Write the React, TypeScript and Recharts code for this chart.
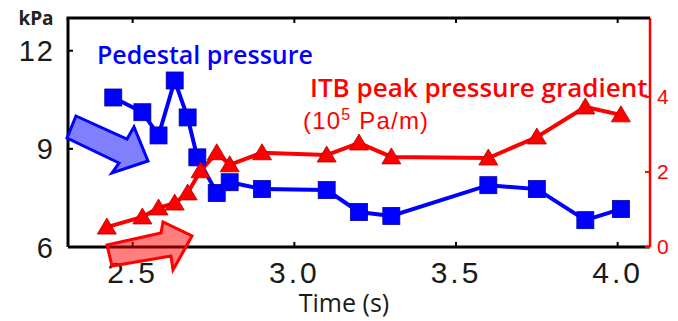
import React from 'react';
import { LineChart, Line, XAxis, YAxis } from 'recharts';

// Pedestal pressure (kPa) vs time
const pedTime = [2.44, 2.53, 2.58, 2.63, 2.67, 2.7, 2.76, 2.8, 2.9, 3.1, 3.2, 3.3, 3.6, 3.75, 3.9, 4.01];
const pedPressure = [10.57, 10.12, 9.41, 11.09, 9.96, 8.74, 7.65, 7.98, 7.77, 7.74, 7.07, 6.95, 7.89, 7.77, 6.82, 7.16];

// ITB peak pressure gradient (10^5 Pa/m) vs time
const itbTime = [2.42, 2.53, 2.58, 2.63, 2.67, 2.71, 2.76, 2.8, 2.9, 3.1, 3.2, 3.3, 3.6, 3.75, 3.9, 4.01];
const itbGradient = [0.53, 0.8, 1.04, 1.17, 1.44, 2.03, 2.51, 2.19, 2.51, 2.45, 2.77, 2.4, 2.37, 2.93, 3.73, 3.52];

const timeTicks = [2.5, 3.0, 3.5, 4.0];
const pressureTicks = [6, 9, 12];
const gradientTicks = [0, 2, 4];

const TIME_DOMAIN = [2.3, 4.1];
const PRESSURE_DOMAIN = [6, 13];
const GRADIENT_DOMAIN = [0, 6.1];

const pedData = pedTime.map((t, i) => ({ t, p: pedPressure[i] }));
const itbData = itbTime.map((t, i) => ({ t, g: itbGradient[i] }));

const W = 678;
const H = 321;
const TOP = 18;
const LEFT_W = 68;
const RIGHT_W = 28;

const BLUE = '#0000ff';
const RED = '#ff0000';
const TICK_FONT = '"Liberation Sans", Arial, sans-serif';
const LABEL_FONT = '"Open Sans", "Noto Sans", sans-serif';

const SquareDot = (props: any) => {
  const { cx, cy } = props;
  if (cx == null || cy == null) return null;
  return <rect x={cx - 8.5} y={cy - 8.5} width={17} height={17} fill={BLUE} stroke="#0000aa" strokeWidth={0.8} />;
};

const TriangleDot = (props: any) => {
  const { cx, cy } = props;
  if (cx == null || cy == null) return null;
  return (
    <polygon
      points={`${cx},${cy - 9} ${cx - 9.5},${cy + 7} ${cx + 9.5},${cy + 7}`}
      fill={RED}
      stroke="#b00000"
      strokeWidth={0.8}
    />
  );
};

const BottomTick = ({ x, y, payload }: any) => (
  <g>
    <rect x={x - 1} y={y - 5} width={2} height={5} fill="#000" />
    {/* matching inward tick on the top frame edge */}
    <rect x={x - 1} y={TOP} width={2} height={5} fill="#000" />
    <text x={x} y={y + 36} textAnchor="middle" fontFamily={TICK_FONT} fontSize={30} letterSpacing={3} fill="#1a1a1a">
      {payload.value.toFixed(1)}
    </text>
  </g>
);

const LeftTick = ({ x, y, payload }: any) => (
  <g>
    <rect x={x} y={y - 1} width={5} height={2} fill="#000" />
    <text x={x - 13} y={y + 10.5} textAnchor="end" fontFamily={TICK_FONT} fontSize={29} letterSpacing={2} fill="#1a1a1a">
      {payload.value}
    </text>
  </g>
);

const RightTick = ({ x, y, payload }: any) => (
  <g>
    <rect x={x - 5} y={y - 1} width={5} height={2} fill={RED} />
    <text x={x + 7} y={y + 7} textAnchor="start" fontFamily={TICK_FONT} fontSize={21} fill={RED}>
      {payload.value}
    </text>
  </g>
);

export default function App() {
  return (
    <div style={{ position: 'absolute', left: 0, top: 0, width: W, height: H, background: '#fff' }}>
      <LineChart width={W} height={H} margin={{ top: TOP, right: 0, bottom: 0, left: 0 }}>
        <XAxis
          xAxisId="b"
          type="number"
          dataKey="t"
          domain={TIME_DOMAIN}
          ticks={timeTicks}
          height={74}
          axisLine={{ stroke: '#000', strokeWidth: 3 }}
          tickLine={false}
          tickSize={0}
          tickMargin={0}
          tick={<BottomTick />}
        />
        <YAxis
          yAxisId="p"
          type="number"
          domain={PRESSURE_DOMAIN}
          ticks={pressureTicks}
          width={LEFT_W}
          axisLine={{ stroke: '#000', strokeWidth: 3 }}
          tickLine={false}
          tickSize={0}
          tickMargin={0}
          tick={<LeftTick />}
        />
        <YAxis
          yAxisId="g"
          orientation="right"
          type="number"
          domain={GRADIENT_DOMAIN}
          ticks={gradientTicks}
          width={RIGHT_W}
          axisLine={{ stroke: RED, strokeWidth: 2.5 }}
          tickLine={false}
          tickSize={0}
          tickMargin={0}
          tick={<RightTick />}
        />
        <Line
          xAxisId="b"
          yAxisId="p"
          data={pedData}
          dataKey="p"
          stroke={BLUE}
          strokeWidth={4}
          dot={<SquareDot />}
          activeDot={false}
          isAnimationActive={false}
        />
        <Line
          xAxisId="b"
          yAxisId="g"
          data={itbData}
          dataKey="g"
          stroke={RED}
          strokeWidth={4}
          dot={<TriangleDot />}
          activeDot={false}
          isAnimationActive={false}
        />
      </LineChart>
      <svg width={W} height={H} style={{ position: 'absolute', left: 0, top: 0, pointerEvents: 'none' }}>
        {/* top edge of the frame */}
        <rect x={LEFT_W - 1.5} y={TOP - 1.5} width={W - RIGHT_W - LEFT_W + 1.5} height={3} fill="#000" />
        <text x={36} y={25} textAnchor="middle" fontFamily={LABEL_FONT} fontSize={19} fontWeight={700} fill="#222">
          kPa
        </text>
        <text x={97} y={64} fontFamily={LABEL_FONT} fontSize={25} fontWeight={600} fill={BLUE}>
          Pedestal pressure
        </text>
        <text x={310} y={97} fontFamily={LABEL_FONT} fontSize={26} fontWeight={600} fill={RED}>
          ITB peak pressure gradient
        </text>
        <text x={303} y={129} fontFamily={TICK_FONT} fontSize={24} letterSpacing={1.2} fill={RED}>
          (10<tspan dy={-9} fontSize={16}>5</tspan>
          <tspan dy={9}> Pa/m)</tspan>
        </text>
        <text x={344} y={312} textAnchor="middle" fontFamily={LABEL_FONT} fontSize={25} fill="#1a1a1a">
          Time (s)
        </text>
        {/* annotation arrows */}
        <polygon
          points="76,116 127,139 134,127 148,161 112,173 119,163 67,138"
          fill="#8080ff"
          stroke={BLUE}
          strokeWidth={3}
          strokeLinejoin="miter"
        />
        <polygon
          points="107,245 161,233 163,222 192,236 173,270 171,256 112,266"
          fill="rgba(255,0,0,0.5)"
          stroke={RED}
          strokeWidth={3}
          strokeLinejoin="miter"
        />
      </svg>
    </div>
  );
}
